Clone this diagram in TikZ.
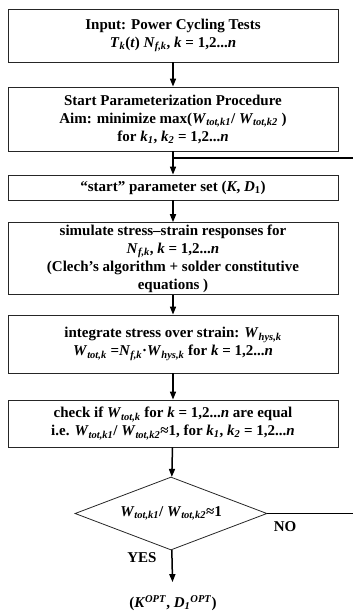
\documentclass[tikz,border=0pt]{standalone}
\usepackage{fontspec}
\setmainfont{Liberation Serif}
\usetikzlibrary{arrows.meta,shapes.geometric}
\newcommand{\iv}[1]{\textit{#1}}
\newcommand{\sbt}[1]{\textsubscript{\textit{#1}}}
\newcommand{\spt}[1]{\textsuperscript{\textit{#1}}}
\tikzset{
  stepbox/.style={draw=black!85, line width=0.8pt, minimum width=330pt, align=center, inner sep=2pt,
    font=\fontsize{15}{18}\selectfont\bfseries},
  plain/.style={align=center, inner sep=1pt, font=\fontsize{15}{18}\selectfont\bfseries},
  flow/.style={line width=1.5pt, -{Triangle[length=8pt,width=6pt]}},
  fb/.style={line width=1.5pt},
}
\begin{document}
\begin{tikzpicture}[x=1pt,y=-1pt]
\useasboundingbox (0,0) rectangle (353,614);
\node[stepbox, minimum height=53pt] (b1) at (173,35.5)
  {Input: Power Cycling Tests\\ \iv{T}\sbt{k}(\iv{t}) \iv{N}\sbt{f,k}, \iv{k} = 1,2...\iv{n}};
\node[stepbox, minimum height=64pt] (b2) at (173,119)
  {Start Parameterization Procedure\\ Aim: minimize max(\iv{W}\sbt{tot,k1}/ \iv{W}\sbt{tot,k2} )\\ for \iv{k}\sbt{1}, \iv{k}\sbt{2} = 1,2...\iv{n}};
\node[stepbox, minimum height=25pt] (b3) at (173,187.5)
  {“start” parameter set (\iv{K}, \iv{D}\textsubscript{1})};
\node[stepbox, minimum height=67pt] (b4) at (173,258.5)
  {simulate stress–strain responses for\\ \iv{N}\sbt{f,k}, \iv{k} = 1,2...\iv{n}\\ (Clech’s algorithm + solder constitutive\\ equations )};
\node[stepbox, minimum height=58pt] (b5) at (173,344)
  {integrate stress over strain: \iv{W}\sbt{hys,k}\\ \iv{W}\sbt{tot,k} =\iv{N}\sbt{f,k}·\iv{W}\sbt{hys,k} for \iv{k} = 1,2...\iv{n}};
\node[stepbox, minimum height=47pt] (b6) at (173,423.5)
  {check if \iv{W}\sbt{tot,k} for \iv{k} = 1,2...\iv{n} are equal\\ i.e. \iv{W}\sbt{tot,k1}/ \iv{W}\sbt{tot,k2}≈1, for \iv{k}\sbt{1}, \iv{k}\sbt{2} = 1,2...\iv{n}};
\node[diamond, draw=black!85, line width=0.8pt, aspect=2.63, inner sep=0pt, minimum width=192pt, minimum height=73pt,
  font=\fontsize{15}{18}\selectfont\bfseries] (dia) at (171,513.5)
  {\iv{W}\sbt{tot,k1}/ \iv{W}\sbt{tot,k2}≈1};
\node[plain] (res) at (173,603) {(\iv{K}\spt{OPT}, \iv{D}\sbt{1}\spt{OPT})};
\node[plain] (yes) at (142,558) {YES};
\node[plain] (no) at (285,527) {NO};
\draw[flow] (b1) -- (b2);
\draw[flow] (b2) -- (b3);
\draw[flow] (b3) -- (b4);
\draw[flow] (b4) -- (b5);
\draw[flow] (b5) -- (b6);
\draw[flow] (b6) -- (dia);
\draw[flow, shorten >=12pt] (dia) -- (res);
\coordinate (j) at (173,158);
\coordinate (fbc) at (356,158);
\draw[fb] (dia.east) -- (dia.east -| fbc) -- (fbc) -- (j);
\end{tikzpicture}
\end{document}
